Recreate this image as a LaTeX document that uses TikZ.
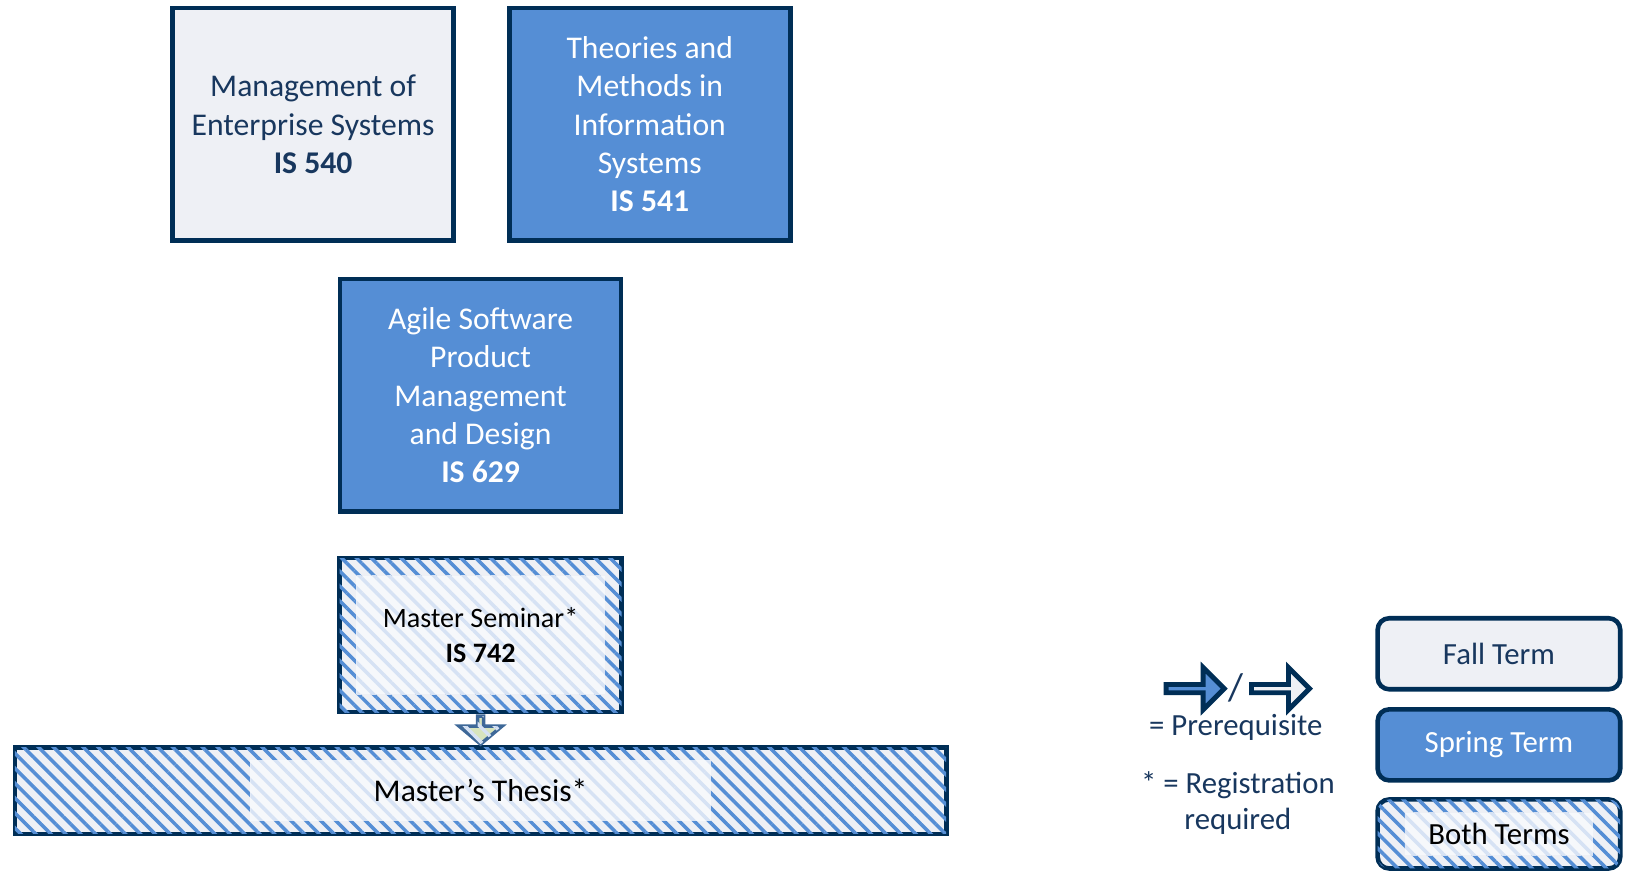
\documentclass[tikz,border=0pt]{standalone}
\usepackage{fontspec}
\setmainfont{Carlito}
\usetikzlibrary{positioning,shapes.arrows,patterns.meta}

\definecolor{navy}{RGB}{0,46,86}
\definecolor{navytext}{RGB}{24,55,94}
\definecolor{fallgray}{RGB}{238,240,245}
\definecolor{springblue}{RGB}{85,142,213}
\definecolor{palestripe}{RGB}{214,226,244}
\definecolor{paleback}{RGB}{246,248,251}
\definecolor{arrowgreen}{RGB}{215,228,189}
\definecolor{arrowedge}{RGB}{62,104,152}

\begin{document}
\begin{tikzpicture}[x=0.0208cm,y=-0.0208cm,
    course/.style={draw=navy,line width=2.6pt,minimum width=5.62cm,minimum height=4.65cm,align=center,font=\fontsize{18}{21.8}\selectfont},
    fall/.style={fill=fallgray,text=navytext},
    spring/.style={fill=springblue,text=white},
    stripes/.style={postaction={pattern={Lines[angle=-45,distance=6pt,line width=2pt]},pattern color=#1}},
    both/.style={draw=navy,line width=2.6pt,fill=fallgray,stripes=springblue},
    bothin/.style={fill=paleback,stripes=palestripe,align=center,inner sep=0pt},
    key/.style={draw=navy,line width=2.6pt,rounded corners=0.23cm,minimum width=4.85cm,minimum height=1.42cm,font=\fontsize{17.5}{21}\selectfont},
    keyarrow/.style={single arrow,draw=navy,line width=2.8pt,inner sep=0pt,minimum height=1.16cm,minimum width=0.84cm,single arrow head extend=0.2cm},
    legend/.style={text=navytext,font=\fontsize{17.5}{21}\selectfont}]
  \useasboundingbox (0,0) rectangle (1567,839);

  \node[course,fall] (is540) at (301,119.5) {Management of\\Enterprise Systems\\\textbf{IS 540}};
  \node[course,spring] (is541) [right=1.02cm of is540] {Theories and\\Methods in\\Information\\Systems\\\textbf{IS 541}};
  \node[course,spring] (is629) at (462,380) {Agile Software\\Product\\Management\\and Design\\\textbf{IS 629}};

  \node[both,minimum width=5.64cm,minimum height=3.08cm] (ms742) at (462,610.5) {};
  \node[bothin,minimum width=4.97cm,minimum height=2.37cm,font=\fontsize{16}{20}\selectfont] (ms742in) at (ms742) {Master Seminar*\\\textbf{IS 742}};

  \node[both,minimum width=18.62cm,minimum height=1.73cm] (thesis) at (462,760) {};
  \node[bothin,minimum width=9.21cm,minimum height=1.21cm,font=\fontsize{18}{21.8}\selectfont] (thesisin) at (thesis) {Master’s Thesis*};

  \node[single arrow,draw=arrowedge,line width=2pt,fill=arrowgreen,stripes=palestripe,
        shape border rotate=270,inner sep=0pt,minimum height=0.56cm,minimum width=0.86cm,
        single arrow head extend=0.22cm,single arrow tip angle=100,anchor=tail] (prq) at (ms742.south) {};

  \node[keyarrow,fill=springblue] (prqblue) at (1147,662) {};
  \node[legend,font=\fontsize{22}{24}\selectfont] (slash) at (1188,661) {/};
  \node[keyarrow,fill=fallgray] (prqwhite) at (1229,662) {};
  \node[legend] (prqtext) at (1188,699) {= Prerequisite};
  \node[legend,align=center] (regtext) at (1190,772) {* = Registration\\required};

  \node[key,fall] (fallkey) at (1441,628.5) {Fall Term};
  \node[key,spring] (springkey) [below=0.31cm of fallkey] {Spring Term};
  \node[key,both,minimum height=1.38cm] (bothkey) [below=0.29cm of springkey] {};
  \node[bothin,minimum width=3.76cm,minimum height=0.85cm,font=\fontsize{17.5}{21}\selectfont] (bothkeyin) at (bothkey) {Both Terms};
\end{tikzpicture}
\end{document}
